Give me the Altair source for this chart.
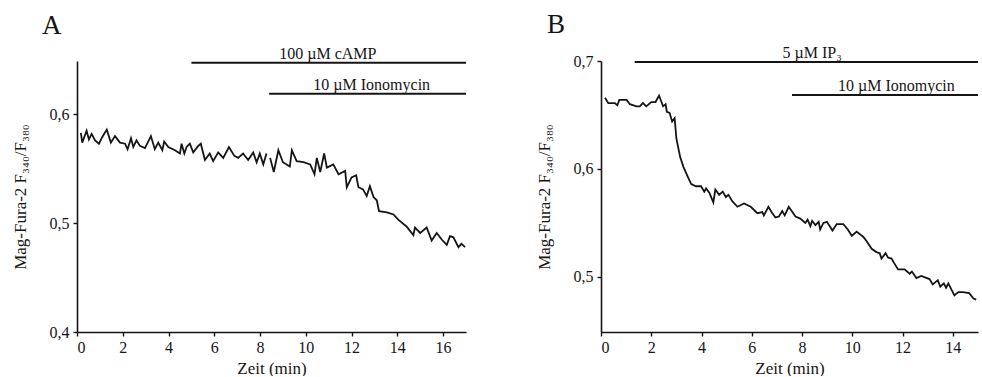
import altair as alt
import pandas as pd

FONT = "Liberation Serif"

# ---------------- Panel A data ----------------
a_t = [0.17, 0.23, 0.42, 0.52, 0.64, 0.79, 0.96, 1.10, 1.30, 1.48, 1.66, 1.88, 2.10, 2.21, 2.36,
       2.46, 2.60, 2.75, 2.97, 3.23, 3.40, 3.55, 3.73, 3.81, 3.99, 4.28, 4.50, 4.57, 4.69, 4.79,
       4.93, 5.08, 5.30, 5.41, 5.59, 5.80, 5.95, 6.17, 6.39, 6.64, 6.87, 7.04, 7.26, 7.48, 7.70,
       7.85, 7.99, 8.14, 8.28,
       8.44, 8.60, 8.80, 9.00, 9.30, 9.39, 9.60, 9.90, 10.19, 10.38, 10.48, 10.63, 10.80, 10.92,
       11.20, 11.43, 11.72, 11.79, 12.00, 12.20, 12.30, 12.50, 12.66, 12.80, 12.96, 13.10, 13.20,
       13.54, 13.83, 14.05, 14.40, 14.70, 14.77, 15.00, 15.28, 15.50, 15.72, 15.94, 16.16, 16.30,
       16.45, 16.67, 16.80, 16.96]
a_v = [0.583, 0.574, 0.585, 0.577, 0.582, 0.576, 0.573, 0.579, 0.586, 0.574, 0.580, 0.574, 0.573,
       0.568, 0.578, 0.570, 0.576, 0.571, 0.569, 0.580, 0.568, 0.574, 0.567, 0.575, 0.570, 0.567,
       0.564, 0.573, 0.564, 0.570, 0.573, 0.565, 0.571, 0.573, 0.558, 0.564, 0.557, 0.565, 0.560,
       0.570, 0.562, 0.560, 0.564, 0.558, 0.565, 0.556, 0.564, 0.554, 0.564,
       0.560, 0.547, 0.567, 0.556, 0.552, 0.567, 0.557, 0.556, 0.554, 0.545, 0.560, 0.547, 0.564,
       0.551, 0.554, 0.545, 0.548, 0.533, 0.542, 0.544, 0.533, 0.531, 0.525, 0.534, 0.524, 0.521,
       0.511, 0.510, 0.508, 0.503, 0.497, 0.489, 0.496, 0.491, 0.496, 0.484, 0.491, 0.485, 0.480,
       0.488, 0.487, 0.478, 0.481, 0.478]
a_seg = [1] * 49 + [2] * 44

a_bar_label = ["100 \u00b5M cAMP", "10 \u00b5M Ionomycin"]
a_bar_start = [5.0, 8.4]
a_bar_end = [17.0, 17.0]
a_bar_level = [0.6475, 0.619]
a_label_t = [10.96, 12.88]

# ---------------- Panel B data ----------------
b_t = [0.16, 0.29, 0.42, 0.55, 0.65, 0.73, 1.02, 1.15, 1.41, 1.54, 1.67, 1.80, 2.00, 2.17, 2.31,
       2.47, 2.57, 2.62, 2.73, 2.83, 2.93, 3.00, 3.15, 3.28, 3.45, 3.59, 3.78, 3.98, 4.11, 4.18,
       4.31, 4.47, 4.55, 4.70, 4.84, 4.97, 5.07, 5.23, 5.43, 5.69, 5.96, 6.22, 6.42, 6.48, 6.66,
       6.79, 6.94, 7.08, 7.21, 7.31, 7.47, 7.74, 7.93, 8.13, 8.22, 8.33, 8.40, 8.53, 8.66, 8.72,
       8.85, 8.99, 9.21, 9.38, 9.64, 9.82, 9.98, 10.17, 10.44, 10.57, 10.77, 10.96, 11.09, 11.16,
       11.32, 11.42, 11.56, 11.66, 11.82, 12.08, 12.28, 12.37, 12.55, 12.74, 13.07, 13.20, 13.40,
       13.50, 13.64, 13.73, 13.82, 14.06, 14.22, 14.39, 14.65, 14.82, 14.93]
b_v = [0.666, 0.661, 0.661, 0.661, 0.659, 0.664, 0.664, 0.660, 0.658, 0.658, 0.661, 0.658, 0.662,
       0.662, 0.668, 0.658, 0.660, 0.653, 0.652, 0.644, 0.647, 0.628, 0.611, 0.602, 0.593, 0.586,
       0.584, 0.584, 0.579, 0.582, 0.578, 0.569, 0.581, 0.576, 0.579, 0.574, 0.576, 0.570, 0.565,
       0.568, 0.565, 0.559, 0.560, 0.557, 0.565, 0.560, 0.555, 0.556, 0.561, 0.557, 0.565, 0.556,
       0.554, 0.550, 0.553, 0.547, 0.552, 0.548, 0.551, 0.544, 0.550, 0.551, 0.543, 0.549, 0.549,
       0.544, 0.538, 0.542, 0.537, 0.533, 0.526, 0.523, 0.522, 0.517, 0.522, 0.518, 0.517, 0.513,
       0.507, 0.507, 0.503, 0.505, 0.499, 0.501, 0.498, 0.493, 0.497, 0.491, 0.494, 0.490, 0.494,
       0.483, 0.486, 0.486, 0.485, 0.480, 0.479]
b_seg = [1] * len(b_t)

b_bar_label = ["5 \u00b5M IP\u2083", "10 \u00b5M Ionomycin"]
b_bar_start = [1.34, 7.6]
b_bar_end = [15.0, 15.0]
b_bar_level = [0.699, 0.6685]
b_label_t = [8.4, 11.75]

YTITLE = "Mag-Fura-2 F\u2083\u2084\u2080/F\u2083\u2088\u2080"
LABEL_EXPR = "replace(format(datum.value, '.1f'), '.', ',')"


def panel(t, v, seg, bl, bs, be, blev, blt, xdom, xticks, ydom, yticks, letter, dx, w, h):
    trace = pd.DataFrame({"t": t, "v": v, "seg": seg})
    bars = pd.DataFrame({"label": bl, "start": bs, "end": be, "level": blev, "lt": blt})

    xscale = alt.Scale(domain=xdom, nice=False, zero=False)
    yscale = alt.Scale(domain=ydom, nice=False, zero=False)
    xaxis = alt.Axis(values=xticks, title="Zeit (min)", format="d")
    yaxis = alt.Axis(values=yticks, title=YTITLE, labelExpr=LABEL_EXPR)

    line = alt.Chart(trace).mark_line(color="#151515", strokeWidth=1.8).encode(
        x=alt.X("t:Q", scale=xscale, axis=xaxis),
        y=alt.Y("v:Q", scale=yscale, axis=yaxis),
        detail="seg:N",
    )
    rules = alt.Chart(bars).mark_rule(color="#151515", strokeWidth=2).encode(
        x=alt.X("start:Q", scale=xscale, axis=xaxis),
        x2="end:Q",
        y=alt.Y("level:Q", scale=yscale, axis=yaxis),
    )
    texts = alt.Chart(bars).mark_text(
        font=FONT, fontSize=16, color="#151515", dy=-9, baseline="middle", align="center"
    ).encode(
        x=alt.X("lt:Q", scale=xscale, axis=xaxis),
        y=alt.Y("level:Q", scale=yscale, axis=yaxis),
        text="label:N",
    )
    return alt.layer(line, rules, texts).properties(
        width=w,
        height=h,
        title=alt.TitleParams(
            letter, anchor="start", frame="group", font=FONT, fontSize=27, fontWeight="normal",
            color="#151515", dx=dx, offset=6,
        ),
    )


pa = panel(a_t, a_v, a_seg, a_bar_label, a_bar_start, a_bar_end, a_bar_level, a_label_t,
           [0, 17], list(range(0, 17, 2)), [0.4, 0.649], [0.4, 0.5, 0.6], "A", -35, 389, 271)
pb = panel(b_t, b_v, b_seg, b_bar_label, b_bar_start, b_bar_end, b_bar_level, b_label_t,
           [0, 15], list(range(0, 15, 2)), [0.449, 0.7], [0.5, 0.6, 0.7], "B", -54, 377, 271)

chart = alt.hconcat(pa, pb, spacing=66).properties(
    padding={"left": 11, "top": 11, "right": 0, "bottom": 0}
).configure_view(stroke=None).configure_axis(
    grid=False,
    domainColor="#151515",
    domainWidth=1.6,
    tickColor="#151515",
    tickWidth=1.4,
    tickSize=4,
    labelFont=FONT,
    labelFontSize=16,
    labelColor="#151515",
    labelPadding=4,
    titleFont=FONT,
    titleFontSize=17,
    titleFontWeight="normal",
    titleColor="#151515",
).configure_axisY(titlePadding=20).configure_axisX(titlePadding=5, labelPadding=3)

chart.save("out.html", embed_options={"renderer": "svg", "actions": False})
